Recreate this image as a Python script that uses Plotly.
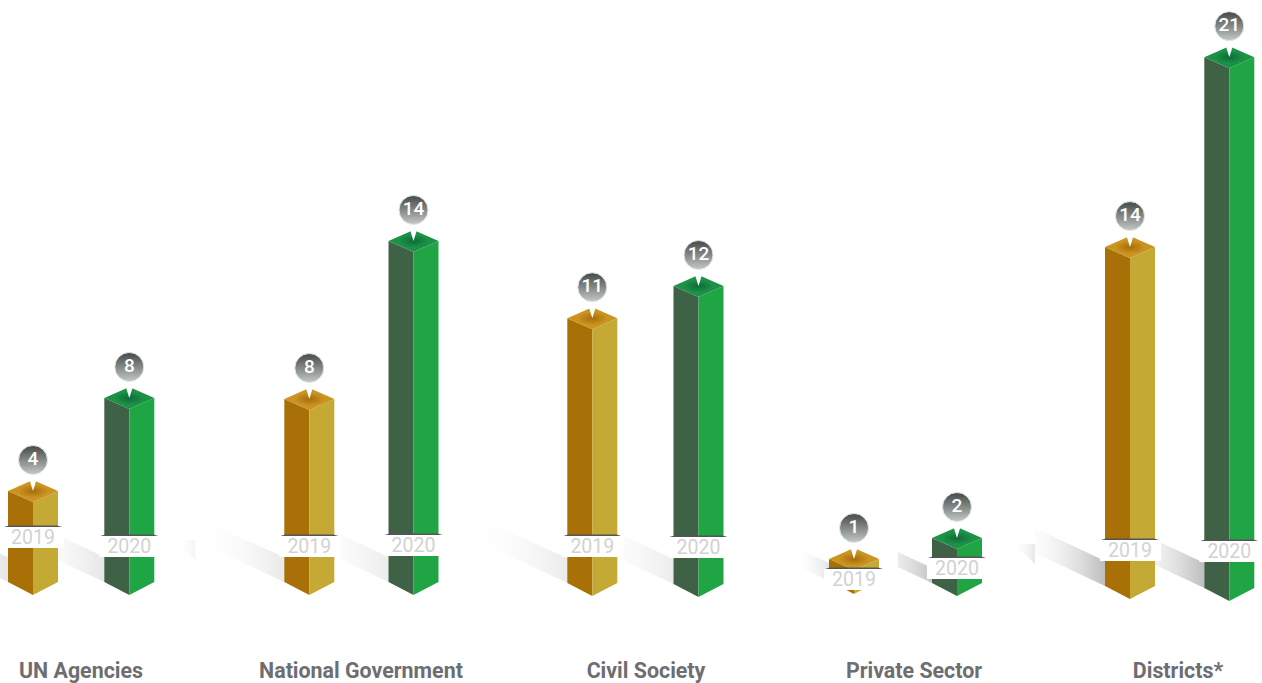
import plotly.graph_objects as go

# ---- data ----
categories = ["UN Agencies", "National Government", "Civil Society", "Private Sector", "Districts*"]
years = ["2019", "2020"]
values_2019 = [4, 8, 11, 1, 14]
values_2020 = [8, 14, 12, 2, 21]

# ---- layout of the infographic (pixels on a 1262x683 canvas) ----
W, H = 1262, 683
UNIT = 25.0            # px per value unit
ZERO = 600.0           # px row of value 0
centre_2019 = [33, 309.3, 592.3, 854, 1130]
centre_2020 = [129.3, 413.5, 698.5, 957, 1229.3]
foot_2019 = [595, 595, 596, 594, 599]
foot_2020 = [595, 595, 597, 596, 601]
stretch_2019 = [0.93, 0.925, 0.97, 0.96, 0.974]
stretch_2020 = [0.93, 0.98, 1.0, 0.94, 1.015]
label_2019 = [539, 548, 548, 581, 552]
label_2020 = [548, 547, 549, 570, 553]
title_x = [81, 361, 646, 914, 1178]
shadow_2019 = dict(grey=["#e6e6e6", "#e9e9e9", "#ebebeb", "#e4e4e4", "#bdbdbd"],
                   clip=[88, 88, 100, 35, 70], fade=[88, 88, 100, 35, 88], band=[25, 25, 25, 18, 25])
shadow_2020 = dict(grey=["#e6e6e6", "#ececec", "#ececec", "#c4c4c4", "#bdbdbd"],
                   clip=[50, 54, 56, 34, 50], fade=[88, 88, 88, 80, 88], band=[25, 25, 25, 15, 25])
tail_clip = {1: 89, 4: 70}
tail_grey = {1: "#f5f5f5", 4: "#e6e6e6"}
HALF = 25
TOP_RISE = 11
BOT_RISE = 13
SLOPE = 0.47

GOLD = dict(left="#a87007", right="#c4a935", top="#cb9320", core="#a66d0a")
GREEN = dict(left="#3f6145", right="#20a545", top="#1c9247", core="#0f6a38")

Y = lambda px: (ZERO - px) / UNIT
fig = go.Figure()


def poly(xs, ys_px, color=None, grad=None):
    kw = dict(x=list(xs) + [xs[0]], y=[Y(p) for p in list(ys_px) + [ys_px[0]]], mode="lines",
              fill="toself", line=dict(width=0), hoverinfo="skip", showlegend=False)
    if grad:
        kw["fillgradient"] = grad
    else:
        kw["fillcolor"] = color
    fig.add_trace(go.Scatter(**kw))


bars = []
for i in range(len(categories)):
    bars.append((centre_2019[i], foot_2019[i], values_2019[i] * UNIT * stretch_2019[i], label_2019[i], values_2019[i], "2019", GOLD, i, shadow_2019))
    bars.append((centre_2020[i], foot_2020[i], values_2020[i] * UNIT * stretch_2020[i], label_2020[i], values_2020[i], "2020", GREEN, i, shadow_2020))

# floor shadows
for cx, foot, h, ly, v, yr, pal, i, sh in bars:
    xr = cx - HALF
    bot = foot - BOT_RISE
    clip, fade, band = sh["clip"][i], sh["fade"][i], sh["band"][i]
    grad = dict(type="horizontal", start=xr - fade, stop=xr,
                colorscale=[[0, "rgba(255,255,255,0)"], [1, sh["grey"][i]]])
    if clip >= 80:
        xs = [xr, xr - clip, xr - clip + 19, xr]
        ys = [bot, bot - clip * SLOPE, bot - clip * SLOPE - 14, bot - band]
    else:
        xs = [xr, xr - clip, xr - clip, xr]
        ys = [bot, bot - clip * SLOPE, bot - clip * SLOPE - band, bot - band]
    poly(xs, ys, grad=grad)
    if sh is shadow_2019 and i in tail_clip:
        c = tail_clip[i]
        poly([xr - c, xr - c - 22, xr - c, ],
             [bot - 22, bot - 22 - 22 * SLOPE - 10, bot - 42],
             grad=dict(type="horizontal", start=xr - c - 22, stop=xr - c,
                       colorscale=[[0, "rgba(255,255,255,0)"], [1, tail_grey[i]]]))

# bars
for cx, foot, h, ly, v, yr, pal, i, sh in bars:
    front_top = foot - h
    side_top = front_top - TOP_RISE
    back_top = front_top - 2 * TOP_RISE
    side_bot = foot - BOT_RISE
    poly([cx - HALF, cx, cx, cx - HALF], [side_top, front_top, foot, side_bot], pal["left"])
    poly([cx, cx + HALF, cx + HALF, cx], [front_top, side_top, side_bot, foot], pal["right"])
    poly([cx - HALF, cx, cx + HALF, cx], [side_top, back_top, side_top, front_top],
         grad=dict(type="radial", colorscale=[[0, pal["core"]], [0.6, pal["top"]], [1, pal["top"]]]))

# year tags
for cx, foot, h, ly, v, yr, pal, i, sh in bars:
    top, bottom = ly - 12, ly + 9
    poly([cx - 29, cx + 29, cx + 24, cx - 24], [top, top, top - 1.5, top - 1.5], "#555555")
    poly([cx - 30, cx + 31, cx + 31, cx - 30], [top, top, bottom, bottom], "#ffffff")
fig.add_trace(go.Scatter(x=[b[0] for b in bars], y=[Y(b[3]) for b in bars], mode="text",
                         text=[b[5] for b in bars],
                         textfont=dict(family="Roboto", size=19.5, color="#d2d2d2"),
                         textposition="middle center", hoverinfo="skip", showlegend=False))

# pins and value badges
for cx, foot, h, ly, v, yr, pal, i, sh in bars:
    back_top = foot - h - 2 * TOP_RISE
    poly([cx - 5, cx + 5, cx], [back_top - 5, back_top - 5, back_top + 11], "#ffffff")
fig.add_trace(go.Scatter(x=[b[0] for b in bars], y=[Y(b[1] - b[2] - 2 * TOP_RISE - 20) for b in bars],
                         mode="markers+text", text=[str(b[4]) for b in bars],
                         textposition="middle center",
                         textfont=dict(family="Roboto", size=19, color="#ffffff", weight=500),
                         marker=dict(symbol="circle", size=29, color="#444948",
                                     gradient=dict(type="vertical", color="#c3c9c7"),
                                     line=dict(width=1, color="#e4e8e7")),
                         hoverinfo="skip", showlegend=False))

# category titles
fig.add_trace(go.Scatter(x=title_x, y=[Y(673)] * len(title_x), mode="text", text=categories,
                         textposition="middle center",
                         textfont=dict(family="Roboto", size=21.4, color="#6d6e71", weight=700),
                         hoverinfo="skip", showlegend=False))

fig.update_layout(width=W, height=H, margin=dict(l=0, r=0, t=0, b=0),
                  paper_bgcolor="#ffffff", plot_bgcolor="#ffffff", showlegend=False,
                  xaxis=dict(range=[0, W], visible=False, fixedrange=True),
                  yaxis=dict(range=[Y(H), Y(0)], visible=False, fixedrange=True))
fig.write_html("out.html", config=dict(displayModeBar=False),
               post_script="document.body.style.margin='0';")
